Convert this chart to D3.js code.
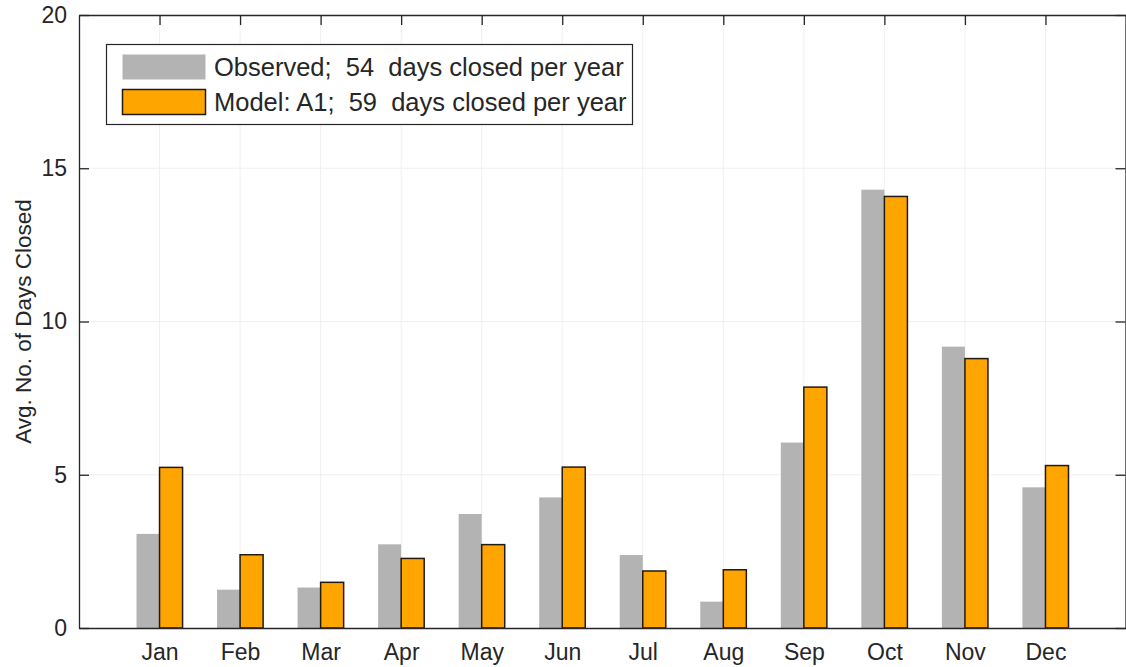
<!DOCTYPE html>
<html>
<head>
<meta charset="utf-8">
<script src="https://cdn.jsdelivr.net/npm/d3@7"></script>
<style>
  html, body { margin: 0; padding: 0; background: #fff; }
  svg { display: block; font-family: "Liberation Sans", Arial, sans-serif; }
</style>
</head>
<body>
<div id="chart"></div>
<script>
'use strict';

// Monatswerte
const months = ['Jan', 'Feb', 'Mar', 'Apr', 'May', 'Jun', 'Jul', 'Aug', 'Sep', 'Oct', 'Nov', 'Dec'];
const observed = [3.07, 1.25, 1.32, 2.73, 3.72, 4.26, 2.38, 0.86, 6.05, 14.30, 9.18, 4.59];
const modelA1  = [5.24, 2.39, 1.49, 2.27, 2.72, 5.25, 1.86, 1.90, 7.86, 14.08, 8.79, 5.30];
const yTicks = [0, 5, 10, 15, 20];
const legendLabels = ['Observed;  54  days closed per year', 'Model: A1;  59  days closed per year'];

(function () {
  const width = 1126;
  const height = 667;
  const left = 79, right = 1126, top = 15, bottom = 628;
  const ink = '#262626';
  const grayFill = '#b3b3b3';
  const orangeFill = '#ffa500';

  const svg = d3.select('#chart').append('svg')
    .attr('width', width)
    .attr('height', height);

  const x = d3.scaleLinear().domain([0, 13]).range([left, right]);
  const y = d3.scaleLinear().domain([0, 20]).range([bottom, top]);
  const barW = 0.286; // Balkenbreite in Monats-Einheiten

  // sehr blasses Gitter
  const grid = svg.append('g').attr('stroke', '#f0f0f0').attr('stroke-width', 1);
  grid.selectAll('line.v').data(months).join('line')
    .attr('x1', (d, i) => x(i + 1)).attr('x2', (d, i) => x(i + 1))
    .attr('y1', top).attr('y2', bottom);
  grid.selectAll('line.h').data(yTicks.slice(1, -1)).join('line')
    .attr('x1', left).attr('x2', right)
    .attr('y1', d => y(d)).attr('y2', d => y(d));

  // Balken
  svg.append('g').selectAll('rect').data(observed).join('rect')
    .attr('x', (d, i) => x(i + 1 - barW))
    .attr('y', d => y(d))
    .attr('width', x(barW) - x(0))
    .attr('height', d => y(0) - y(d))
    .attr('fill', grayFill);

  svg.append('g').selectAll('rect').data(modelA1).join('rect')
    .attr('x', (d, i) => x(i + 1))
    .attr('y', d => y(d))
    .attr('width', x(barW) - x(0))
    .attr('height', d => y(0) - y(d))
    .attr('fill', orangeFill)
    .attr('stroke', '#231a12')
    .attr('stroke-width', 1.5);

  // Achsen (Ticks nach innen, wie MATLAB)
  const styleAxis = g => {
    g.select('.domain').attr('stroke', ink).attr('stroke-width', 1.3);
    g.selectAll('.tick line').attr('stroke', ink).attr('stroke-width', 1.3);
    g.selectAll('.tick text').attr('fill', ink).attr('font-size', 23)
      .attr('font-family', '"Liberation Sans", Arial, sans-serif');
  };

  svg.append('g').attr('transform', `translate(${left},0)`)
    .call(d3.axisLeft(y).tickValues(yTicks).tickSize(-10).tickSizeOuter(0).tickPadding(12))
    .call(styleAxis);

  svg.append('g').attr('transform', `translate(${right - 0.5},0)`)
    .call(d3.axisRight(y).tickValues(yTicks).tickSize(-10).tickSizeOuter(0).tickFormat(''))
    .call(styleAxis);

  svg.append('g').attr('transform', `translate(0,${top})`)
    .call(d3.axisTop(x).tickValues(d3.range(1, 13)).tickSize(-10).tickSizeOuter(0).tickFormat(''))
    .call(styleAxis);

  svg.append('g').attr('transform', `translate(0,${bottom})`)
    .call(d3.axisBottom(x).tickValues(d3.range(1, 13)).tickSize(0).tickSizeOuter(0)
      .tickPadding(16).tickFormat(d => months[d - 1]))
    .call(styleAxis);

  // y-Achsentitel
  svg.append('text')
    .attr('transform', `translate(31,${(top + bottom) / 2}) rotate(-90)`)
    .attr('text-anchor', 'middle')
    .attr('font-size', 22.5)
    .attr('fill', ink)
    .text('Avg. No. of Days Closed');

  // Legende
  const legend = svg.append('g');
  legend.append('rect')
    .attr('x', 106.5).attr('y', 44.5)
    .attr('width', 526).attr('height', 80)
    .attr('fill', '#fff')
    .attr('stroke', ink).attr('stroke-width', 1.2);

  const swatches = [
    { fill: grayFill, stroke: 'none' },
    { fill: orangeFill, stroke: '#231a12' }
  ];
  legendLabels.forEach((label, i) => {
    const cy = 67 + i * 35;
    legend.append('rect')
      .attr('x', 122.5).attr('y', cy - 12.5)
      .attr('width', 83).attr('height', 25)
      .attr('fill', swatches[i].fill)
      .attr('stroke', swatches[i].stroke)
      .attr('stroke-width', 1.5);
    legend.append('text')
      .attr('x', 214)
      .attr('y', cy + 9)
      .attr('font-size', 25.5)
      .attr('fill', ink)
      .style('white-space', 'pre')
      .text(label);
  });
})();
</script>
</body>
</html>
